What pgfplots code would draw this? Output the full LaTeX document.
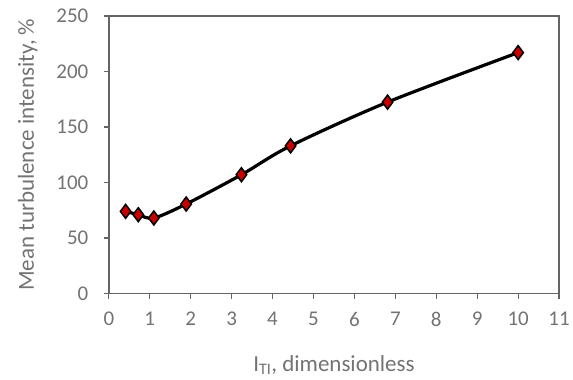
\documentclass[border=0pt]{standalone}
\usepackage{pgfplots}
\pgfplotsset{compat=1.18}
\usepackage{fontspec}
\setmainfont{Carlito}
\definecolor{txt}{RGB}{115,115,115}
\definecolor{axc}{RGB}{100,100,100}
\definecolor{mk}{RGB}{200,0,0}
\begin{document}
\begin{tikzpicture}
\begin{axis}[
  scale only axis,
  width=451bp, height=278bp,
  xmin=0, xmax=11, ymin=0, ymax=250,
  xtick={0,1,...,11}, ytick={0,50,...,250},
  xtick pos=bottom, ytick pos=left,
  axis line style={axc, line width=1.5pt},
  tick style={axc, line width=1.2pt},
  tick align=outside, major tick length=5bp,
  every tick label/.style={text=txt, font=\fontsize{21bp}{24bp}\selectfont},
  /pgf/number format/assume math mode=true,
  xticklabel style={yshift=-10bp},
  yticklabel style={xshift=-12bp},
  xlabel={I\textsubscript{TI}, dimensionless},
  ylabel={Mean turbulence intensity, \%},
  label style={text=txt, font=\fontsize{23bp}{26bp}\selectfont},
  xlabel style={yshift=-22bp},
  ylabel style={yshift=12bp},
]
\addplot[black, line width=3.2bp, smooth, tension=0.5,
  mark=diamond*, mark size=7bp,
  mark options={fill=mk, draw=black, line width=1.5bp}]
  coordinates {(0.41,74) (0.72,71) (1.1,68) (1.89,80.6) (3.24,107) (4.44,133) (6.81,172.4) (10,217)};
\end{axis}
\path[use as bounding box] ([xshift=-109bp,yshift=-86bp]current axis.south west) rectangle ([xshift=13bp,yshift=16bp]current axis.north east);
\end{tikzpicture}
\end{document}
